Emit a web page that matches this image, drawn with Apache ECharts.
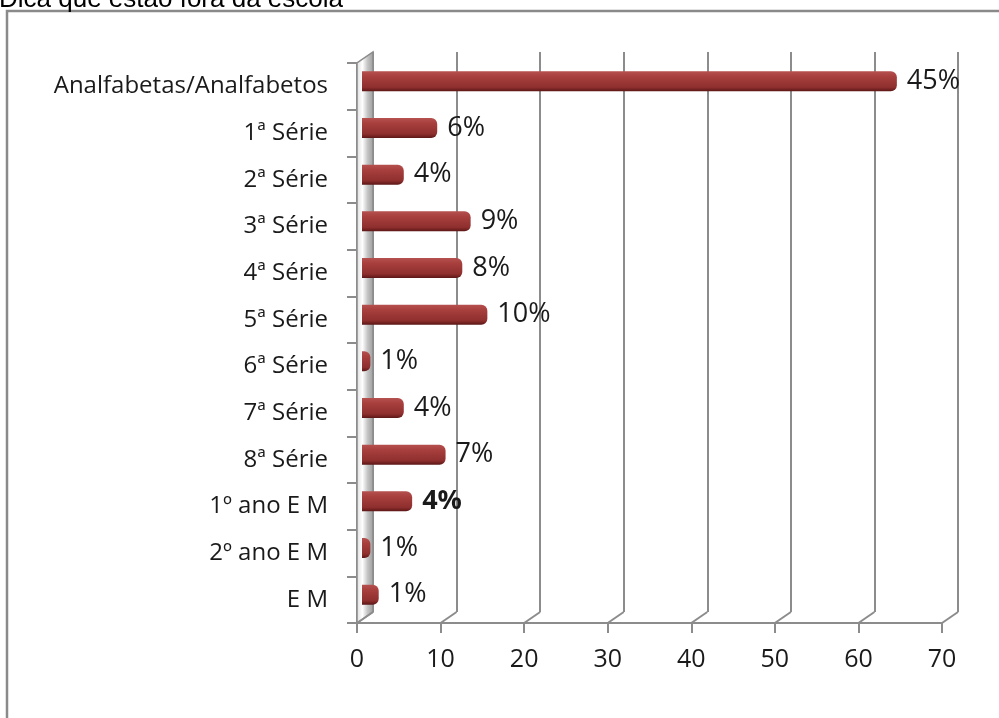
<!DOCTYPE html>
<html>
<head>
<meta charset="utf-8">
<script src="https://cdn.jsdelivr.net/npm/echarts@6/dist/echarts.min.js"></script>
<style>
html,body{margin:0;padding:0;background:#fff;}
#c{width:999px;height:718px;}
</style>
</head>
<body>
<div id="c"></div>
<script>
const titleText = 'Dica que estão fora da escola';
const categories = ['Analfabetas/Analfabetos','1ª Série','2ª Série','3ª Série','4ª Série','5ª Série','6ª Série','7ª Série','8ª Série','1º ano E M','2º ano E M','E M'];
const values = [64, 9, 5, 13, 12, 15, 1, 5, 10, 6, 1, 2];
const percentLabels = ['45%','6%','4%','9%','8%','10%','1%','4%','7%','4%','1%','1%'];
const xTicks = [0, 10, 20, 30, 40, 50, 60, 70];

const FONT = '"Open Sans", sans-serif';
const GRAY = '#8c8c8c';
const DX = 16, DY = -11; // 3D depth offset of the back wall

const chart = echarts.init(document.getElementById('c'), null, {renderer:'canvas'});

const barData = values.map((v, i) => i === 9 ? {value: v, label: {fontWeight: 'bold'}} : v);

const option = {
  animation: false,
  backgroundColor: '#fff',
  graphic: [
    {type:'rect', shape:{x:7, y:11, width:1010, height:730}, style:{fill:'none', stroke:'#8a8a8a', lineWidth:2.5}, z:0},
    {type:'text', left:-1, top:-13, style:{text:titleText, font:'26px "Liberation Sans", Arial, sans-serif', fill:'#000'}}
  ],
  grid: [
    {left:357, top:63, width:585, height:560},          // front
    {left:357+DX, top:63+DY, width:585, height:560},     // back wall
    {left:362, top:58, width:585, height:560}            // bars (mid depth)
  ],
  xAxis: [
    {gridIndex:0, type:'value', min:0, max:70, interval:10,
     axisLine:{show:true, lineStyle:{color:GRAY, width:2}},
     axisTick:{show:true, length:10, lineStyle:{color:GRAY, width:2}},
     axisLabel:{margin:24, fontFamily:FONT, fontSize:25, color:'#1a1a1a'},
     splitLine:{show:false}},
    {gridIndex:1, type:'value', min:0, max:70, interval:10,
     axisLine:{show:false}, axisTick:{show:false}, axisLabel:{show:false},
     splitLine:{show:true, lineStyle:{color:GRAY, width:2}}},
    {gridIndex:2, type:'value', min:0, max:70, interval:10, show:false, splitLine:{show:false}}
  ],
  yAxis: [
    {gridIndex:0, type:'category', data:categories, inverse:true,
     axisLine:{show:true, lineStyle:{color:GRAY, width:2}},
     axisTick:{show:true, length:10, lineStyle:{color:GRAY, width:2}},
     axisLabel:{margin:29, fontFamily:FONT, fontSize:24, color:'#1a1a1a', padding:[8,0,0,0]}},
    {gridIndex:1, type:'category', data:categories, inverse:true, show:false},
    {gridIndex:2, type:'category', data:categories, inverse:true, show:false}
  ],
  series: [
    {
      type:'custom', xAxisIndex:0, yAxisIndex:0, z:1, silent:true,
      data:[0],
      renderItem:function(params, api){
        const band = api.size([0,1])[1];
        const top = api.coord([0, 0]);
        const bot = api.coord([0, categories.length-1]);
        const x0 = top[0], yt = top[1]-band/2, yb = bot[1]+band/2;
        return {type:'polygon', shape:{points:[[x0,yb],[x0,yt],[x0+DX,yt+DY],[x0+DX,yb+DY]]},
          style:{fill:new echarts.graphic.LinearGradient(0,0,1,0,[
            {offset:0,color:'#d9d9d9'},{offset:0.35,color:'#ffffff'},{offset:0.65,color:'#c4c4c4'},{offset:1,color:'#9a9a9a'}]),
            stroke:GRAY, lineWidth:1.5}};
      }
    },
    {
      type:'custom', xAxisIndex:0, yAxisIndex:0, z:1, silent:true,
      data:xTicks,
      renderItem:function(params, api){
        const band = api.size([0,1])[1];
        const p = api.coord([api.value(0), categories.length-1]);
        const y = p[1]+band/2;
        return {type:'line', shape:{x1:p[0], y1:y, x2:p[0]+DX, y2:y+DY},
          style:{stroke:GRAY, lineWidth:2}};
      }
    },
    {
      type:'bar', xAxisIndex:2, yAxisIndex:2, z:5,
      data:barData, barWidth:20,
      itemStyle:{
        borderRadius:[0,6,6,0],
        color:new echarts.graphic.LinearGradient(0,0,0,1,[
          {offset:0,color:'#b5514f'},{offset:0.25,color:'#a8403e'},{offset:0.8,color:'#8e2f2e'},{offset:1,color:'#5c1616'}])
      },
      label:{show:true, position:'right', distance:10, fontFamily:FONT, fontSize:27, color:'#1a1a1a',
        formatter:function(p){return percentLabels[p.dataIndex];}}
    }
  ]
};
chart.setOption(option);
</script>
</body>
</html>
